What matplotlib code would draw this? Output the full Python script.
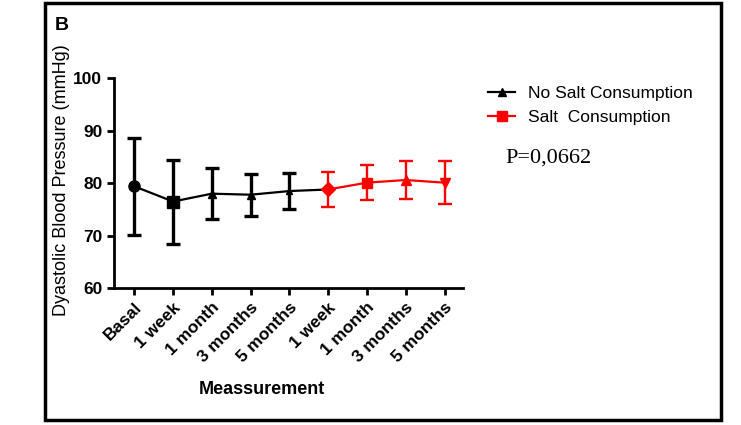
import matplotlib
matplotlib.use("Agg")
import matplotlib.pyplot as plt
from matplotlib.lines import Line2D
from matplotlib.patches import Rectangle

# datos
labels = ["Basal", "1 week", "1 month", "3 months", "5 months",
          "1 week", "1 month", "3 months", "5 months"]
no_salt_mean = [79.4, 76.5, 78.0, 77.8, 78.5]
no_salt_err = [9.3, 8.0, 4.9, 4.0, 3.5]
salt_mean = [78.8, 80.1, 80.6, 80.1]
salt_err = [3.3, 3.4, 3.7, 4.1]

x_no = list(range(len(no_salt_mean)))
x_salt = list(range(len(no_salt_mean), len(labels)))

plt.rcParams["font.family"] = ["Liberation Sans", "DejaVu Sans"]

fig = plt.figure(figsize=(7.41, 4.25), dpi=100)
ax = fig.add_axes([0.154, 0.322, 0.471, 0.494])

# marco exterior
fig.patches.append(Rectangle((45 / 741, 1 - 420 / 425), 676 / 741, 417 / 425,
                             transform=fig.transFigure, fill=False,
                             edgecolor="black", linewidth=2.5))

# lineas
ax.plot(x_no + [x_salt[0]], no_salt_mean + [salt_mean[0]], color="black", lw=1.6, zorder=2)
ax.plot(x_salt, salt_mean, color="red", lw=1.6, zorder=2)

ax.errorbar(x_no, no_salt_mean, yerr=no_salt_err, fmt="none", ecolor="black",
            elinewidth=2.4, capsize=5, capthick=2.4, zorder=3)
ax.errorbar(x_salt, salt_mean, yerr=salt_err, fmt="none", ecolor="red",
            elinewidth=1.7, capsize=5, capthick=1.7, zorder=3)

mk_no = ["o", "s", "^", "^", "^"]
ms_no = [8, 8, 6, 6, 5]
for xi, yi, m, s in zip(x_no, no_salt_mean, mk_no, ms_no):
    ax.plot(xi, yi, marker=m, ms=s, color="black", zorder=4)

mk_salt = ["D", "s", "^", "v"]
for xi, yi, m in zip(x_salt, salt_mean, mk_salt):
    ax.plot(xi, yi, marker=m, ms=7, color="red", zorder=4)

ax.set_xlim(-0.52, 8.48)
ax.set_ylim(60, 100)
ax.set_yticks([60, 70, 80, 90, 100])
ax.set_xticks(range(len(labels)))
ax.set_xticklabels(labels, rotation=45, ha="right", rotation_mode="anchor",
                   fontweight="bold", fontsize=12.5)
for t in ax.get_yticklabels():
    t.set_fontweight("bold")
    t.set_fontsize(12.5)

ax.spines["top"].set_visible(False)
ax.spines["right"].set_visible(False)
ax.spines["left"].set_linewidth(2)
ax.spines["bottom"].set_linewidth(2)
ax.tick_params(width=2, length=5)

fig.text(262 / 741, 1 - 389 / 425, "Meassurement", fontweight="bold", fontsize=13,
         ha="center", va="center")
fig.text(62 / 741, 1 - 180 / 425, "Dyastolic Blood Pressure (mmHg)", rotation=90,
         ha="center", va="center", fontsize=13)

fig.text(55 / 741, 1 - 25 / 425, "B", fontweight="bold", fontsize=14,
         ha="left", va="center")

handles = [Line2D([], [], color="black", marker="^", ms=6, lw=1.6),
           Line2D([], [], color="red", marker="s", ms=7, lw=1.6)]
fig.legend(handles, ["No Salt Consumption", "Salt  Consumption"],
           loc="upper left", bbox_to_anchor=(472 / 741, 1 - 70 / 425),
           frameon=False, fontsize=12.5, handlelength=1.6, handletextpad=0.7,
           labelspacing=0.5)

fig.text(505 / 741, 1 - 158 / 425, "P=0,0662", family=["Liberation Serif"],
         fontsize=16, ha="left", va="center")

fig.savefig("out.png", dpi=100)
